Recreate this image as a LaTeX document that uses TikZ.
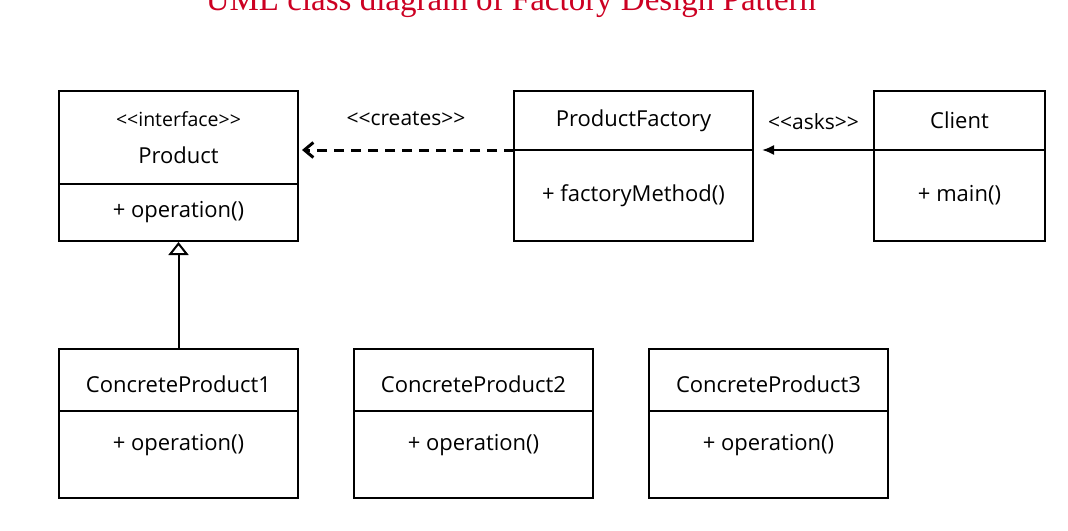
\documentclass[tikz,border=0pt]{standalone}
\usepackage{fontspec}
\newfontfamily\umlfont{Open Sans}
\newfontfamily\titlefont{Liberation Serif}
\usepackage{xcolor}
\usetikzlibrary{arrows.meta, positioning}
\definecolor{titlered}{RGB}{204,0,34}

\begin{document}
\begin{tikzpicture}[
    part/.style={draw, line width=2pt, outer sep=0pt, inner sep=0pt, minimum width=239pt, align=center, font=\umlfont\fontsize{22}{27}\selectfont},
    stereo/.style={font=\umlfont\fontsize{21}{25}\selectfont, inner sep=0pt},
    creates/.style={-{Straight Barb[length=9pt, width=15pt]}, line width=3pt, dash pattern=on 10pt off 7pt, shorten >=4pt},
    asks/.style={-{Latex[length=12pt, width=10pt]}, line width=2pt, shorten >=9pt},
    inherit/.style={-{Triangle[open, length=13pt, width=20pt]}, line width=2pt, shorten >=1pt},
    node distance=0pt
]
    \useasboundingbox (0,0) rectangle (1068pt,-530pt);

    \node[font=\titlefont\fontsize{33}{37}\selectfont, text=titlered, anchor=base] (title) at (511pt,-10pt) {UML class diagram of Factory Design Pattern};

    % top row
    \node[part, minimum height=93pt, anchor=north west] (prodhead) at (59pt,-91pt)
        {{\fontsize{19.5}{23}\selectfont <<interface>>}\\[10pt]Product};
    \node[part, minimum height=57pt, below=of prodhead] (prodbody) {+ operation()};

    \node[part, minimum height=59pt, right=216pt of prodhead.north east, anchor=north west] (pfhead) {ProductFactory};
    \node[part, minimum height=91pt, below=of pfhead] (pfbody) {+ factoryMethod()};

    \node[part, minimum width=171pt, minimum height=59pt, right=121pt of pfhead] (clhead) {Client};
    \node[part, minimum width=171pt, minimum height=91pt, below=of clhead] (clbody) {+ main()};

    % bottom row
    \node[part, minimum height=62pt, text height=26pt, below=108pt of prodbody] (cp1head) {ConcreteProduct1};
    \node[part, minimum height=87pt, text depth=25pt, below=of cp1head] (cp1body) {+ operation()};

    \node[part, minimum height=62pt, text height=26pt, right=56pt of cp1head] (cp2head) {ConcreteProduct2};
    \node[part, minimum height=87pt, text depth=25pt, below=of cp2head] (cp2body) {+ operation()};

    \node[part, minimum height=62pt, text height=26pt, right=56pt of cp2head] (cp3head) {ConcreteProduct3};
    \node[part, minimum height=87pt, text depth=25pt, below=of cp3head] (cp3body) {+ operation()};

    % relations
    \draw[creates] (pfhead.south west) -- (pfhead.south west -| prodhead.east)
        node[stereo, midway, above=23pt] (createslbl) {<<creates>>};
    \draw[asks] (clhead.south west) -- (pfhead.south east)
        node[stereo, midway, above=19pt] (askslbl) {<<asks>>};
    \draw[inherit] (cp1head.north) -- (prodbody.south);
\end{tikzpicture}
\end{document}
